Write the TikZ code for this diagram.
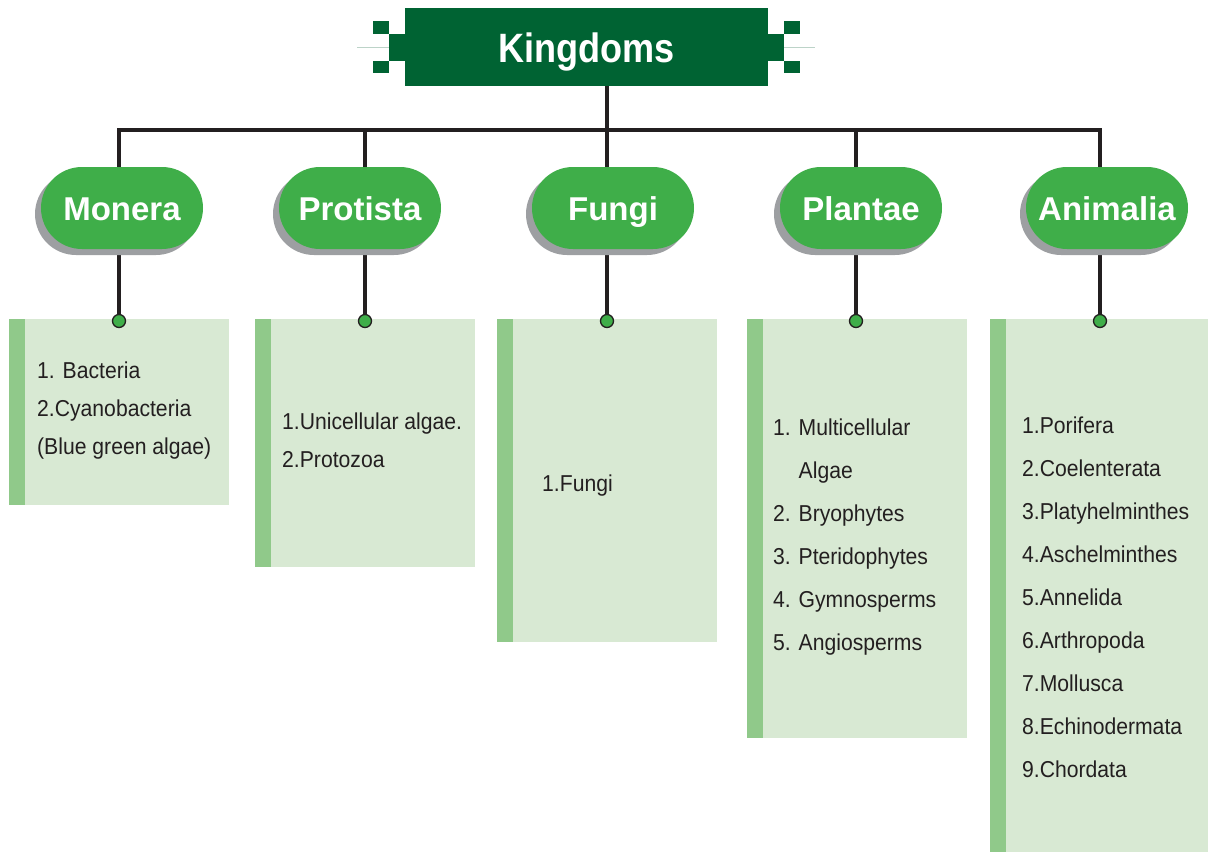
\documentclass[tikz,border=0pt]{standalone}
\usepackage{fontspec}
\setmainfont{Liberation Sans}
\newfontfamily\headfont{Liberation Sans}[FakeStretch=0.88]
\newfontfamily\listfont{Liberation Sans}[FakeStretch=0.92]
\usetikzlibrary{shapes.misc, shadows, backgrounds}
\definecolor{darkgrn}{RGB}{0,99,51}
\definecolor{pillgrn}{RGB}{63,174,73}
\definecolor{shadowgry}{RGB}{157,159,162}
\definecolor{boxgrn}{RGB}{216,233,211}
\definecolor{stripegrn}{RGB}{144,201,138}
\definecolor{linegry}{RGB}{35,31,32}
\definecolor{thingry}{RGB}{188,211,200}

\begin{document}
\begin{tikzpicture}[x=1pt, y=-1pt,
  king/.style={fill=darkgrn, text=white, font=\headfont\bfseries\fontsize{41}{41}\selectfont,
    minimum width=363pt, minimum height=78pt, inner sep=0, text height=30pt, text depth=0pt},
  pill/.style={rounded rectangle, fill=pillgrn, text=white, font=\bfseries\fontsize{33}{33}\selectfont,
    minimum width=162pt, minimum height=82pt, inner sep=0, text height=24pt, text depth=0pt,
    drop shadow={shadow xshift=-6pt, shadow yshift=-6pt, fill=shadowgry, opacity=1}},
  box/.style={fill=boxgrn, anchor=north west, minimum width=220pt, inner sep=0},
  knob/.style={circle, fill=pillgrn, draw=linegry, line width=1.3pt, minimum size=13pt, inner sep=0},
  entry/.style={font=\listfont\fontsize{23}{23}\selectfont, text=linegry, inner sep=0, anchor=base west},
  conn/.style={draw=linegry, line width=3.5pt}]
\useasboundingbox (0,0) rectangle (1208,852);

% title
\draw[thingry, line width=1pt] (357,47) -- (389,47);
\draw[thingry, line width=1pt] (784,47) -- (815,47);
\fill[darkgrn] (373,21) rectangle (389,34);
\fill[darkgrn] (389,34) rectangle (405,61);
\fill[darkgrn] (373,61) rectangle (389,73);
\fill[darkgrn] (784,21) rectangle (800,34);
\fill[darkgrn] (768,34) rectangle (784,61);
\fill[darkgrn] (784,61) rectangle (800,73);
\node[king] (kingdom) at (586.5,47) {Kingdoms};

% kingdoms
\node[pill] (monera) at (122,208) {Monera};
\node[pill] (protista) at (360,208) {Protista};
\node[pill] (fungi) at (613,208) {Fungi};
\node[pill] (plantae) at (861,208) {Plantae};
\node[pill] (animalia) at (1107,208) {Animalia};

% boxes
\node[box, minimum height=186pt] (bmon) at (9,319) {};
\node[box, minimum height=248pt] (bpro) at (255,319) {};
\node[box, minimum height=323pt] (bfun) at (497,319) {};
\node[box, minimum height=419pt] (bpla) at (747,319) {};
\node[box, minimum width=218pt, minimum height=533pt] (bani) at (990,319) {};
\foreach \b in {bmon, bpro, bfun, bpla, bani}
  \fill[stripegrn] (\b.north west) rectangle ([xshift=16pt]\b.south west);

\node[knob] (dmon) at (119,321) {};
\node[knob] (dpro) at (365,321) {};
\node[knob] (dfun) at (607,321) {};
\node[knob] (dpla) at (856,321) {};
\node[knob] (dani) at (1100,321) {};

% connectors
\coordinate (bar) at (0,130);
\begin{scope}[on background layer]
\draw[conn] (kingdom.south -| dfun) -- (dfun);
\draw[conn, line join=miter] (dmon) -- (dmon |- bar) -- (dani |- bar) -- (dani);
\draw[conn] (dpro) -- (dpro |- bar);
\draw[conn] (dpla) -- (dpla |- bar);
\end{scope}

% lists
\foreach \t [count=\i] in {1. Bacteria, 2.Cyanobacteria, (Blue green algae)}
  \node[entry] (mon\i) at (37,{340+38*\i}) {\t};
\foreach \t [count=\i] in {1.Unicellular algae., 2.Protozoa}
  \node[entry] (pro\i) at (282,{391+38*\i}) {\t};
\node[entry] (fun1) at (542,491) {1.Fungi};
\foreach \t [count=\i] in {1. Multicellular, \phantom{1. }Algae, 2. Bryophytes,
    3. Pteridophytes, 4. Gymnosperms, 5. Angiosperms}
  \node[entry] (pla\i) at (773,{392+43*\i}) {\t};
\foreach \t [count=\i] in {1.Porifera, 2.Coelenterata, 3.Platyhelminthes, 4.Aschelminthes,
    5.Annelida, 6.Arthropoda, 7.Mollusca, 8.Echinodermata, 9.Chordata}
  \node[entry] (ani\i) at (1022,{390+43.1*\i}) {\t};
\end{tikzpicture}
\end{document}
